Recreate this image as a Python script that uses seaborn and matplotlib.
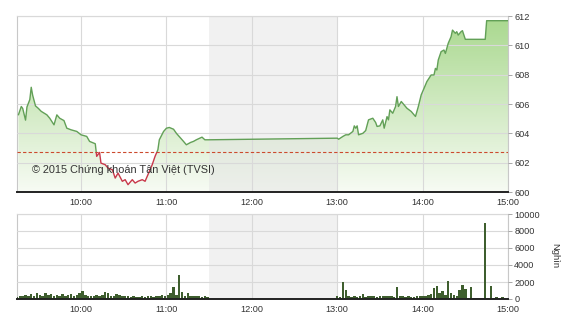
import numpy as np
import pandas as pd
import matplotlib
matplotlib.use("Agg")
import matplotlib.pyplot as plt
import seaborn as sns
from matplotlib.colors import LinearSegmentedColormap
from matplotlib.patches import Rectangle, PathPatch

# ---------------- data ----------------
price_times = [
    "9:16", "9:18", "9:19", "9:21", "9:22", "9:24", "9:25", "9:26", "9:28", "9:30",
    "9:32", "9:36", "9:38", "9:41", "9:43", "9:45", "9:48", "9:50", "9:53", "9:57",
    "10:00", "10:04", "10:06", "10:10", "10:11", "10:13", "10:14", "10:17", "10:19", "10:22",
    "10:24", "10:26", "10:29", "10:31", "10:33", "10:36", "10:38", "10:40", "10:43", "10:45",
    "10:47", "10:50", "10:52", "10:54", "10:55", "10:58", "11:00", "11:02", "11:05", "11:07",
    "11:10", "11:12", "11:14", "11:17", "11:19", "11:21", "11:25", "11:27", "11:30",
    "13:00", "13:01", "13:04", "13:06", "13:08", "13:11", "13:12", "13:13", "13:14", "13:15",
    "13:18", "13:20", "13:22", "13:25", "13:27", "13:28", "13:30", "13:32", "13:33", "13:35",
    "13:36", "13:37", "13:39", "13:41", "13:42", "13:43", "13:45", "13:47", "13:49", "13:52",
    "13:54", "13:55", "13:57", "13:59", "14:01", "14:03", "14:06", "14:08", "14:09", "14:10",
    "14:11", "14:13", "14:15", "14:16", "14:18", "14:20", "14:21", "14:23", "14:24", "14:25",
    "14:27", "14:28", "14:30", "14:44", "14:45", "15:00",
]
price_values = [
    605.26, 605.83, 605.70, 604.90, 605.80, 606.30, 607.14, 606.60, 605.87, 605.70,
    605.50, 605.26, 605.03, 604.58, 605.26, 605.03, 604.87, 604.35, 604.24, 604.13,
    603.90, 603.79, 603.45, 603.29, 602.43, 602.70, 601.97, 601.86, 601.63, 601.52,
    600.95, 601.29, 600.73, 600.84, 600.50, 600.84, 600.61, 600.73, 600.84, 600.73,
    601.18, 601.86, 602.43, 602.88, 603.56, 604.13, 604.35, 604.40, 604.28, 604.00,
    603.67, 603.45, 603.22, 603.38, 603.45, 603.56, 603.74, 603.56, 603.56,
    603.67, 603.60, 603.79, 603.90, 603.90, 604.13, 604.51, 604.35, 604.51, 603.90,
    604.00, 604.19, 604.92, 605.03, 604.74, 604.47, 604.51, 604.92, 604.35, 605.14,
    604.92, 605.60, 605.37, 605.83, 606.50, 605.83, 606.17, 605.94, 605.71, 605.49,
    605.26, 605.15, 605.83, 606.62, 607.07, 607.53, 607.98, 607.98, 608.43, 608.32,
    609.00, 609.57, 609.68, 609.45, 610.14, 610.59, 611.04, 610.82, 610.93, 610.70,
    610.93, 611.00, 610.41, 610.41, 611.68, 611.68,
]
reference_price = 602.7

volume_morning_start = "9:15"
volume_morning = [
    250, 350, 300, 450, 400, 550, 300, 650, 500, 400,
    700, 450, 600, 350, 500, 400, 550, 300, 450, 600,
    400, 500, 750, 900, 450, 350, 400, 300, 450, 400,
    500, 850, 750, 400, 350, 550, 450, 400, 300, 350,
    250, 300, 200, 250, 300, 200, 350, 300, 250, 400,
    350, 450, 400, 500, 650, 1400, 450, 2800, 850, 400,
    700, 350, 400, 300, 350, 250, 300, 200,
]
volume_afternoon_start = "13:00"
volume_afternoon = [
    400, 250, 1950, 1050, 300, 200, 350, 250, 300, 600,
    250, 350, 300, 400, 250, 350, 300, 400, 350, 300,
    250, 1400, 350, 300, 250, 300, 200, 250, 300, 350,
    400, 300, 450, 600, 1300, 1500, 700, 900, 500, 2100,
    700, 500, 400, 1100, 1600, 1200, 150, 1400, 100, 80,
    100, 80, 9000, 100, 1500, 150, 200, 150, 200, 150,
    100,
]
volume_step_minutes = 2

hour_ticks = ["10:00", "11:00", "12:00", "13:00", "14:00", "15:00"]
price_ticks = [600, 602, 604, 606, 608, 610, 612]
volume_ticks = [0, 2000, 4000, 6000, 8000, 10000]
session_range = ("9:15", "15:00")
lunch_break = ("11:30", "13:00")
copyright_text = "© 2015 Chứng khoán Tân Việt (TVSI)"
volume_unit = "Nghìn"


def to_hours(s):
    h, m = s.split(":")
    return int(h) + int(m) / 60.0


# ---------------- style ----------------
sns.set_theme(style="white")
plt.rcParams["font.family"] = ["Liberation Sans", "DejaVu Sans"]

GREEN = "#62a057"
RED = "#c8384a"
GRID = "#d9d9d9"
FRAME = "#c8c8c8"
TXT = "#333333"
VOL = "#3e5e2e"

fig = plt.figure(figsize=(5.7, 3.2), dpi=100)
ax1 = fig.add_axes([17 / 570, 1 - 192 / 320, 491 / 570, 176 / 320])
ax2 = fig.add_axes([17 / 570, 1 - 299 / 320, 491 / 570, 85 / 320])

x0, x1 = to_hours(session_range[0]), to_hours(session_range[1])
l0, l1 = to_hours(lunch_break[0]), to_hours(lunch_break[1])
ymin, ymax = price_ticks[0], price_ticks[-1]

df = pd.DataFrame({"t": [to_hours(s) for s in price_times], "p": price_values})

# gradient fill under the price line
poly = ax1.fill_between(df["t"], df["p"], ymin, color="none", lw=0)
clip = PathPatch(poly.get_paths()[0], transform=ax1.transData, fc="none", ec="none")
ax1.add_patch(clip)
cmap = LinearSegmentedColormap.from_list("g", ["#f7fbf4", "#a9d88e"])
grad = np.linspace(0, 1, 256).reshape(-1, 1)
im = ax1.imshow(grad, extent=[x0, x1, ymin, ymax], aspect="auto", cmap=cmap,
                origin="lower", zorder=1, interpolation="bilinear")
im.set_clip_path(clip)

# lunch shading
for ax in (ax1, ax2):
    ax.axvspan(l0, l1, color="#e4e4e4", alpha=0.5, lw=0, zorder=1.5)

# price line: green above the reference, red below
sns.lineplot(data=df, x="t", y="p", ax=ax1, color=GREEN, lw=1.0,
             estimator=None, sort=False, zorder=4)
green_line = ax1.lines[-1]
green_line.set_clip_path(Rectangle((x0, reference_price), x1 - x0, ymax - reference_price,
                                   transform=ax1.transData))
sns.lineplot(data=df, x="t", y="p", ax=ax1, color=RED, lw=1.0,
             estimator=None, sort=False, zorder=4)
red_line = ax1.lines[-1]
red_line.set_clip_path(Rectangle((x0, ymin), x1 - x0, reference_price - ymin,
                                 transform=ax1.transData))

ax1.axhline(reference_price, color="#cc4a2e", lw=0.8, dashes=(3, 2), zorder=3)

ax1.text(x0 + (32 - 17) / 85.4, 601.5, copyright_text, fontsize=7.8, color=TXT,
         va="center", ha="left", zorder=5)

# volume bars
am_t = [to_hours(volume_morning_start) + i * volume_step_minutes / 60 for i in range(len(volume_morning))]
pm_t = [to_hours(volume_afternoon_start) + i * volume_step_minutes / 60 for i in range(len(volume_afternoon))]
ax2.bar(am_t + pm_t, volume_morning + volume_afternoon, width=1.7 / 60,
        color=VOL, lw=0, zorder=3)

# axes formatting
hour_pos = [to_hours(s) for s in hour_ticks]
for ax, yt, ylim in ((ax1, price_ticks, (ymin, ymax)), (ax2, volume_ticks, (0, volume_ticks[-1]))):
    ax.set_xlim(x0, x1)
    ax.set_ylim(*ylim)
    ax.set_xticks(hour_pos)
    ax.set_xticklabels(hour_ticks)
    ax.set_yticks(yt)
    ax.set_yticklabels([str(v) for v in yt])
    ax.yaxis.tick_right()
    ax.tick_params(axis="y", length=3, width=0.6, color="#999999", pad=1.5,
                   labelsize=6.6, labelcolor=TXT, right=True, left=False)
    ax.tick_params(axis="x", length=0, pad=4.5, labelsize=6.6, labelcolor=TXT)
    ax.set_xlabel("")
    ax.set_ylabel("")
    ax.grid(True, color=GRID, lw=0.8, zorder=2)
    ax.set_axisbelow(False)
    for g in ax.get_xgridlines() + ax.get_ygridlines():
        g.set_zorder(2)
    for side in ("top", "left", "right"):
        ax.spines[side].set_color(FRAME)
        ax.spines[side].set_linewidth(0.8)
    ax.spines["bottom"].set_color("#222222")
    ax.spines["bottom"].set_linewidth(1.4)
    ax.spines["bottom"].set_zorder(6)

fig.text(555 / 570, 1 - 256 / 320, volume_unit, rotation=-90, fontsize=6.8,
         color=TXT, ha="center", va="center")

fig.savefig("out.png", dpi=100, facecolor="white")
